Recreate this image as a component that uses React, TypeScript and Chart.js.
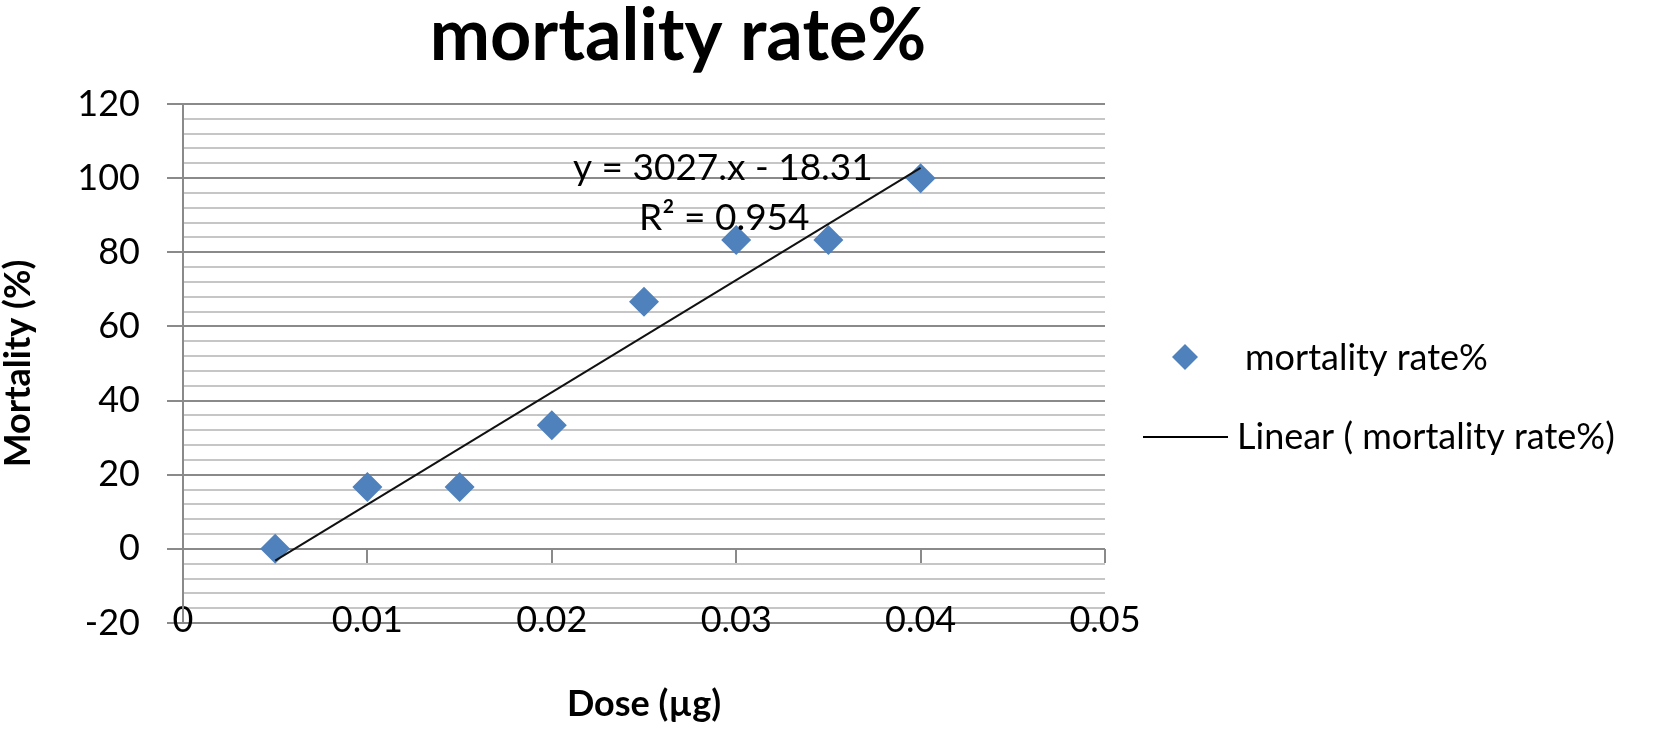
import React, { useEffect, useRef } from 'react';
import { Chart, registerables } from 'chart.js';

Chart.register(...registerables);

// ---- data ----
const doses = [0.005, 0.01, 0.015, 0.02, 0.025, 0.03, 0.035, 0.04];
const mortality = [0, 16.67, 16.67, 33.33, 66.67, 83.33, 83.33, 100];
const trendX = [0.005, 0.04];
const trendY = [-3.175, 102.77];
const xTickLabels = ['0', '0.01', '0.02', '0.03', '0.04', '0.05'];
const chartTitle = 'mortality rate%';
const seriesName = 'mortality rate%';
const trendName = 'Linear ( mortality rate%)';
const equationText = 'y = 3027.x - 18.31';
const r2Text = 'R\u00B2 = 0.954';
const xTitle = 'Dose (\u00B5g)';
const yTitle = 'Mortality (%)';

const MAJOR = '#8a8a8a';
const MINOR = '#c6c6c6';
const BLUE = '#4F81BD';
const FONT = 'Lato';

const decor = {
  id: 'decor',
  beforeDatasetsDraw(chart: any) {
    const { ctx, scales } = chart;
    const x = scales.x;
    const y = scales.y;
    const y0 = Math.round(y.getPixelForValue(0));
    ctx.save();
    ctx.strokeStyle = MAJOR;
    ctx.lineWidth = 2;
    x.ticks.forEach((t: any) => {
      if (t.value === 0) return;
      const px = Math.round(x.getPixelForValue(t.value));
      ctx.beginPath();
      ctx.moveTo(px, y0);
      ctx.lineTo(px, y0 + 14);
      ctx.stroke();
    });
    ctx.restore();
  },
  afterDraw(chart: any) {
    const { ctx, scales, chartArea } = chart;
    const x = scales.x;
    const y = scales.y;
    ctx.save();
    ctx.fillStyle = '#000';
    // title
    ctx.font = `bold 72px ${FONT}`;
    ctx.textAlign = 'center';
    ctx.textBaseline = 'alphabetic';
    ctx.fillText(chartTitle, 678, 60);
    // equation
    ctx.font = `37px ${FONT}`;
    ctx.textAlign = 'left';
    ctx.textBaseline = 'middle';
    ctx.fillText(equationText, x.getPixelForValue(0.02115), y.getPixelForValue(102.7));
    ctx.fillText(r2Text, x.getPixelForValue(0.02473), y.getPixelForValue(89.2));
    // legend
    const lx = chartArea.right;
    ctx.fillStyle = BLUE;
    const dx = lx + 80, dy = 357, r = 13;
    ctx.beginPath();
    ctx.moveTo(dx - r, dy);
    ctx.lineTo(dx, dy - r);
    ctx.lineTo(dx + r, dy);
    ctx.lineTo(dx, dy + r);
    ctx.closePath();
    ctx.fill();
    ctx.fillStyle = '#000';
    ctx.font = `36px ${FONT}`;
    ctx.fillText(seriesName, lx + 140, 358);
    ctx.strokeStyle = '#000';
    ctx.lineWidth = 2;
    ctx.beginPath();
    ctx.moveTo(lx + 38, 437);
    ctx.lineTo(lx + 123, 437);
    ctx.stroke();
    ctx.fillText(trendName, lx + 132, 437);
    ctx.restore();
  },
};

export default function App() {
  const ref = useRef<HTMLCanvasElement | null>(null);
  useEffect(() => {
    document.body.style.margin = '0';
    const canvas = ref.current;
    if (!canvas) return;
    const chart = new Chart(canvas, {
      type: 'scatter',
      data: {
        datasets: [
          {
            type: 'line',
            label: trendName,
            data: trendX.map((v, i) => ({ x: v, y: trendY[i] })),
            borderColor: '#111',
            borderWidth: 2,
            pointRadius: 0,
            fill: false,
            order: 0,
          } as any,
          {
            type: 'scatter',
            label: seriesName,
            data: doses.map((v, i) => ({ x: v, y: mortality[i] })),
            pointStyle: 'rectRot',
            pointRadius: 15,
            pointHoverRadius: 15,
            backgroundColor: BLUE,
            borderWidth: 0,
            order: 1,
          } as any,
        ],
      },
      options: {
        animation: false,
        responsive: false,
        devicePixelRatio: 1,
        layout: { padding: { top: 104, left: 0, right: 549, bottom: 0 } },
        plugins: {
          legend: { display: false },
          title: { display: false },
          tooltip: { enabled: false },
        },
        scales: {
          x: {
            type: 'linear',
            position: 'bottom',
            min: 0,
            max: 0.05,
            afterFit: (s: any) => { s.height = 107; },
            border: { display: false },
            grid: { display: false, drawTicks: false },
            ticks: {
              stepSize: 0.01,
              autoSkip: false,
              maxRotation: 0,
              mirror: true,
              padding: -19,
              color: '#000',
              font: { family: FONT, size: 36 },
              callback: (_v: any, i: number) => xTickLabels[i],
            },
            title: {
              display: true,
              text: xTitle,
              color: '#000',
              font: { family: FONT, size: 36, weight: 'bold' },
              padding: { top: 0, bottom: 4 },
            },
          },
          y: {
            type: 'linear',
            min: -20,
            max: 120,
            afterFit: (s: any) => { s.width = 183; },
            border: { display: true, color: MAJOR, width: 2 },
            grid: {
              color: (c: any) => (c.tick && c.tick.value % 20 === 0 ? MAJOR : MINOR),
              tickColor: (c: any) => (c.tick && c.tick.value % 20 === 0 ? MAJOR : 'rgba(0,0,0,0)'),
              tickLength: 16,
              lineWidth: 2,
            },
            ticks: {
              stepSize: 4,
              autoSkip: false,
              padding: 27,
              color: '#000',
              font: { family: FONT, size: 36 },
              callback: (v: any) => (v % 20 === 0 ? String(v) : ''),
            },
            title: {
              display: true,
              text: yTitle,
              color: '#000',
              font: { family: FONT, size: 36, weight: 'bold', lineHeight: 1 },
              padding: { top: 0, bottom: 0 },
            },
          },
        },
      },
      plugins: [decor],
    });
    return () => chart.destroy();
  }, []);
  return <canvas ref={ref} width={1654} height={730} style={{ display: 'block' }} />;
}
